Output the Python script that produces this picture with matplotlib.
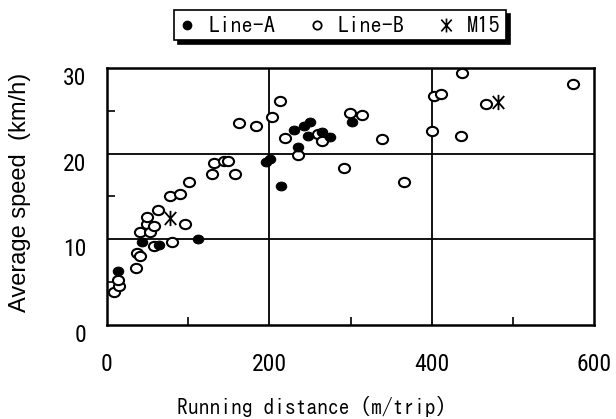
import numpy as np
import matplotlib
matplotlib.use("Agg")
import matplotlib.pyplot as plt
from matplotlib.path import Path
from matplotlib.lines import Line2D
import matplotlib.transforms as mtransforms

# Line-A trips (filled markers)
line_a_dist = [13.9, 43.4, 64.3, 112.3, 196.3, 201.2, 214.5, 230.3, 235.2,
               242.4, 249.6, 248.0, 265.2, 274.2, 301.6]
line_a_speed = [6.35, 9.65, 9.35, 10.05, 19.0, 19.4, 16.2, 22.8, 20.8,
                23.2, 23.7, 22.1, 22.5, 22.0, 23.7]

# Line-B trips (open markers)
line_b_dist = [8.6, 14.8, 13.9, 36.2, 37.3, 41.0, 40.6, 48.8, 48.8, 52.9,
               57.8, 58.2, 63.1, 77.5, 80.0, 89.8, 95.5, 100.8, 129.5, 132.0,
               144.0, 149.0, 157.8, 162.7, 183.2, 202.9, 212.7, 218.9, 235.2,
               259.8, 264.6, 291.8, 299.0, 314.4, 338.5, 365.6, 400.4, 403.3,
               411.5, 436.9, 436.6, 466.8, 574.6]
line_b_speed = [3.9, 4.5, 5.2, 6.6, 8.45, 8.0, 10.8, 11.8, 12.65, 10.8,
                11.55, 9.2, 13.4, 15.0, 9.7, 15.3, 11.8, 16.7, 17.6, 18.9,
                19.2, 19.2, 17.6, 23.6, 23.2, 24.3, 26.2, 21.8, 19.9,
                22.3, 21.5, 18.3, 24.8, 24.5, 21.7, 16.7, 22.7, 26.75,
                26.95, 29.4, 22.1, 25.8, 28.1]

# M15 trips
m15_dist = [77.5, 482.0]
m15_speed = [12.5, 26.0]

x_ticks = [0, 200, 400, 600]
y_ticks = [0, 10, 20, 30]

gothic = ["IPAGothic", "DejaVu Sans Mono"]
digits = ["Roboto Condensed", "Liberation Sans"]

# slightly wide ellipse used as the scatter marker
circ = Path.unit_circle()
ellipse = Path(circ.vertices * np.array([1.2, 1.0]), circ.codes)

# asterisk made of a vertical stroke crossed by an X
M, L = Path.MOVETO, Path.LINETO
star = Path([(0, 1), (0, -1), (-0.75, 0.85), (0.75, -0.85), (-0.75, -0.85), (0.75, 0.85)],
            [M, L, M, L, M, L])

fig = plt.figure(figsize=(6.16, 4.19), dpi=100)
ax = fig.add_axes([107 / 616, 1 - 325 / 419, (594 - 107) / 616, (325 - 68) / 419])

ax.set_xlim(0, 600)
ax.set_ylim(0, 30)
ax.set_axisbelow(True)

for v in (200, 400):
    ax.axvline(v, color="black", lw=1.3, zorder=1)
for v in (10, 20):
    ax.axhline(v, color="black", lw=1.3, zorder=1)

ax.plot(line_b_dist, line_b_speed, linestyle="none", marker=ellipse,
        markersize=8.0, markerfacecolor="white", markeredgecolor="black",
        markeredgewidth=1.5, zorder=3)
ax.plot(line_a_dist, line_a_speed, linestyle="none", marker=ellipse,
        markersize=7.5, markerfacecolor="black", markeredgecolor="black",
        markeredgewidth=0.8, zorder=4)
ax.plot(m15_dist, m15_speed, linestyle="none", marker=star,
        markersize=11, markeredgecolor="black", markeredgewidth=1.3, zorder=5)

for s in ax.spines.values():
    s.set_linewidth(1.8)

ax.set_xticks(x_ticks)
ax.set_yticks(y_ticks)
ax.set_xticks([100, 300, 500], minor=True)
ax.set_yticks([5, 15, 25], minor=True)
ax.tick_params(which="major", length=0, labelsize=17)
ax.tick_params(axis="x", which="major", pad=20)
ax.tick_params(axis="y", which="major", pad=15)
ax.tick_params(which="minor", direction="in", length=6, width=1.2)
for lab in ax.get_xticklabels() + ax.get_yticklabels():
    lab.set_fontfamily(digits)
shift = mtransforms.ScaledTranslation(0, -8 / 100, fig.dpi_scale_trans)
for lab in ax.get_yticklabels():
    lab.set_transform(lab.get_transform() + shift)

fig.text(20 / 616, 1 - 192 / 419, "Average speed  (km/h)", rotation=90,
         ha="center", va="center", fontsize=17, family="Liberation Sans")
fig.text(312 / 616, 1 - 406 / 419, "Running distance (m/trip)",
         ha="center", va="center", fontsize=15.5, family=gothic)

handles = [
    Line2D([], [], linestyle="none", marker="o", markersize=6,
           markerfacecolor="black", markeredgecolor="black"),
    Line2D([], [], linestyle="none", marker="o", markersize=6,
           markerfacecolor="white", markeredgecolor="black", markeredgewidth=1.3),
    Line2D([], [], linestyle="none", marker=star, markersize=10,
           markeredgecolor="black", markeredgewidth=1.2),
]
leg = fig.legend(handles, ["Line-A", "Line-B", "M15"], ncol=3,
                 loc="upper left", bbox_to_anchor=(174 / 616, 1 - 10 / 419),
                 frameon=True, fancybox=False, edgecolor="black",
                 shadow={"color": "black", "alpha": 1.0, "ox": 3, "oy": -3},
                 prop={"family": gothic, "size": 16},
                 handlelength=0.7, handletextpad=0.6, columnspacing=1.5,
                 borderpad=0.25, borderaxespad=0)
leg.get_frame().set_linewidth(1.2)

fig.savefig("out.png", dpi=100)
